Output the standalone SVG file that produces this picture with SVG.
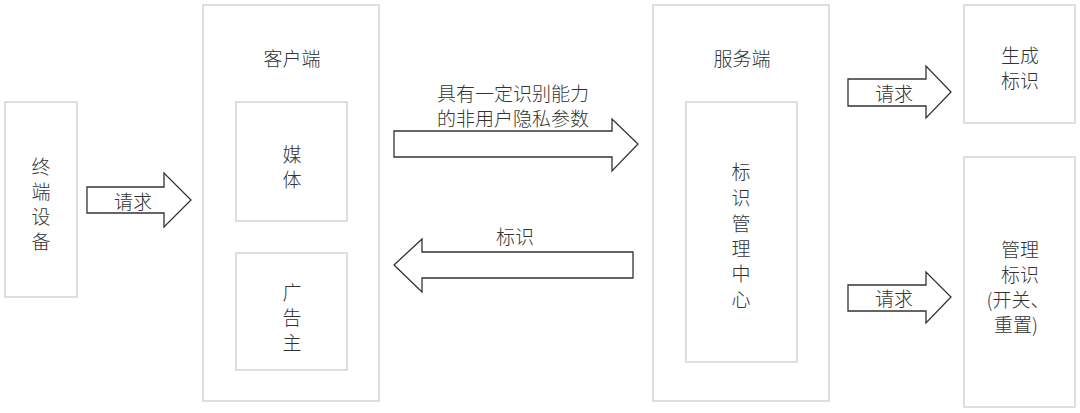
<svg xmlns="http://www.w3.org/2000/svg" width="1080" height="413" viewBox="0 0 1080 413">
<style>
.box{fill:#fff;stroke:#d4d4d4;stroke-width:1.5}
.arr{fill:#fff;stroke:#333;stroke-width:1.3;stroke-linejoin:miter}
text{font-family:"Noto Sans CJK SC","Noto Sans",sans-serif;font-size:19px;font-weight:300;fill:#333;text-anchor:middle;dominant-baseline:central}
</style>
<rect width="1080" height="413" fill="#fff"/>
<g id="terminal">
<rect class="box" x="5" y="102" width="72" height="195"/>
<text x="41" y="165"><tspan x="41" y="165">终</tspan><tspan x="41" y="190">端</tspan><tspan x="41" y="215">设</tspan><tspan x="41" y="240">备</tspan></text>
</g>
<g id="client">
<rect class="box" x="203" y="5" width="176" height="396"/>
<text x="292" y="57">客户端</text>
</g>
<g id="media">
<rect class="box" x="236" y="102" width="111" height="119"/>
<text x="292" y="153"><tspan x="292" y="153">媒</tspan><tspan x="292" y="178">体</tspan></text>
</g>
<g id="advertiser">
<rect class="box" x="236" y="253" width="111" height="117"/>
<text x="292" y="291"><tspan x="292" y="291">广</tspan><tspan x="292" y="316">告</tspan><tspan x="292" y="341">主</tspan></text>
</g>
<g id="server">
<rect class="box" x="653" y="5" width="176" height="396"/>
<text x="742" y="57">服务端</text>
</g>
<g id="idcenter">
<rect class="box" x="686" y="102" width="111" height="260"/>
<text x="741" y="170"><tspan x="741" y="170">标</tspan><tspan x="741" y="196">识</tspan><tspan x="741" y="222">管</tspan><tspan x="741" y="247">理</tspan><tspan x="741" y="272">中</tspan><tspan x="741" y="298">心</tspan></text>
</g>
<g id="genid">
<rect class="box" x="964" y="5" width="111" height="118"/>
<text x="1020" y="54"><tspan x="1020" y="54">生成</tspan><tspan x="1020" y="79">标识</tspan></text>
</g>
<g id="mgmtid">
<rect class="box" x="964" y="157" width="111" height="250"/>
<text x="1020" y="248"><tspan x="1020" y="248">管理</tspan><tspan x="1020" y="273">标识</tspan><tspan x="1018" y="298">(开关、</tspan><tspan x="1016" y="323">重置)</tspan></text>
</g>
<g id="connectors">
<polygon class="arr" points="87,187 164,187 164,173 191,200 164,227 164,213 87,213"/>
<text x="133" y="200">请求</text>
<polygon class="arr" points="394,131 612,131 612,119 638,144 612,171 612,157 394,157"/>
<text x="513" y="92"><tspan x="513" y="92">具有一定识别能力</tspan><tspan x="513" y="117">的非用户隐私参数</tspan></text>
<polygon class="arr" points="633,252 422,252 422,239 394,265 422,292 422,278 633,278"/>
<text x="515" y="235">标识</text>
<polygon class="arr" points="848,79 926,79 926,66 951,92 926,118 926,106 848,106"/>
<text x="894" y="92">请求</text>
<polygon class="arr" points="848,285 926,285 926,272 951,297 926,323 926,311 848,311"/>
<text x="894" y="297">请求</text>
</g>
</svg>
